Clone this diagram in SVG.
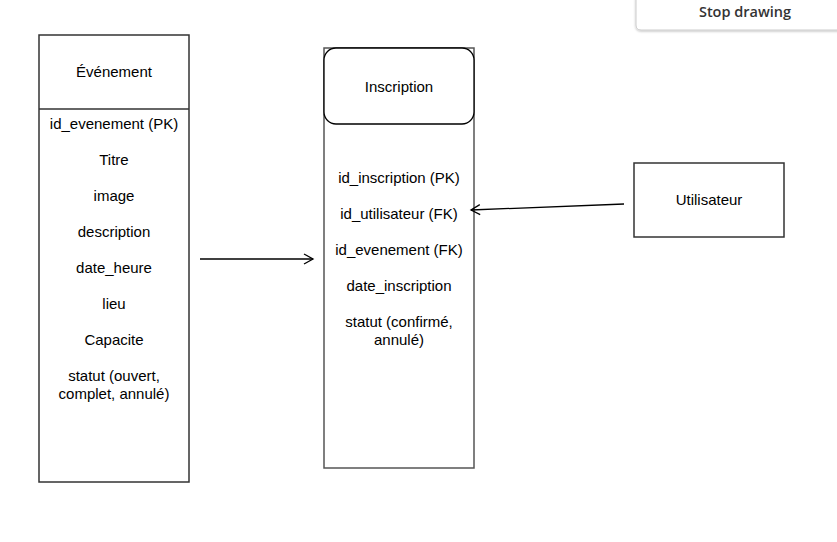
<svg xmlns="http://www.w3.org/2000/svg" width="837" height="542" viewBox="0 0 837 542">
<style>
.t{font-family:"Liberation Sans",Arial,sans-serif;font-size:15px;fill:#000;text-anchor:middle;dominant-baseline:central}
.box{fill:#fff;stroke:#333;stroke-width:1.5}
.conn{stroke:#000;stroke-width:1.3;fill:none}
</style>
<defs>
<marker id="open" markerWidth="12" markerHeight="12" refX="10" refY="6" orient="auto" markerUnits="userSpaceOnUse">
<path d="M1,1 L10,6 L1,11" fill="none" stroke="#000" stroke-width="1.3"/>
</marker>
<filter id="sh" x="-10%" y="-30%" width="130%" height="180%">
<feDropShadow dx="0" dy="1" stdDeviation="1" flood-color="#000" flood-opacity="0.25"/>
</filter>
</defs>
<rect width="837" height="542" fill="#fff"/>
<g id="stop-drawing">
<path d="M636,-2 H840 V30 H641 Q636,30 636,25 Z" fill="#fff" stroke="#ccc" stroke-width="1" filter="url(#sh)"/>
<text x="745" y="11.5" class="t" style="font-family:'Open Sans','Noto Sans',sans-serif;font-weight:600;fill:#333;font-size:14.5px">Stop drawing</text>
</g>
<g id="evenement">
<rect x="39" y="35" width="150" height="447" class="box"/>
<line x1="39" y1="109" x2="189" y2="109" stroke="#333" stroke-width="1.5"/>
<text x="114" y="71" class="t">Événement</text>
<text x="114" y="123" class="t">id_evenement (PK)</text>
<text x="114" y="159" class="t">Titre</text>
<text x="114" y="195" class="t">image</text>
<text x="114" y="231" class="t">description</text>
<text x="114" y="267" class="t">date_heure</text>
<text x="114" y="303" class="t">lieu</text>
<text x="114" y="339" class="t">Capacite</text>
<text x="114" y="375" class="t">statut (ouvert,</text>
<text x="114" y="393" class="t">complet, annulé)</text>
</g>
<g id="inscription">
<rect x="324" y="48" width="150" height="420" fill="#fff" stroke="#555" stroke-width="1.5"/>
<rect x="324" y="48" width="150" height="76" rx="12" ry="12" fill="#fff" stroke="#000" stroke-width="1.3"/>
<text x="399" y="86" class="t">Inscription</text>
<text x="399" y="177" class="t">id_inscription (PK)</text>
<text x="399" y="213" class="t">id_utilisateur (FK)</text>
<text x="399" y="249" class="t">id_evenement (FK)</text>
<text x="399" y="285" class="t">date_inscription</text>
<text x="399" y="321" class="t">statut (confirmé,</text>
<text x="399" y="339" class="t">annulé)</text>
</g>
<g id="utilisateur">
<rect x="634" y="163" width="150" height="74" class="box"/>
<text x="709" y="199" class="t">Utilisateur</text>
</g>
<g id="connectors">
<line x1="200" y1="259" x2="313" y2="259" class="conn" marker-end="url(#open)"/>
<line x1="624" y1="204" x2="471" y2="210" class="conn" marker-end="url(#open)"/>
</g>
</svg>
